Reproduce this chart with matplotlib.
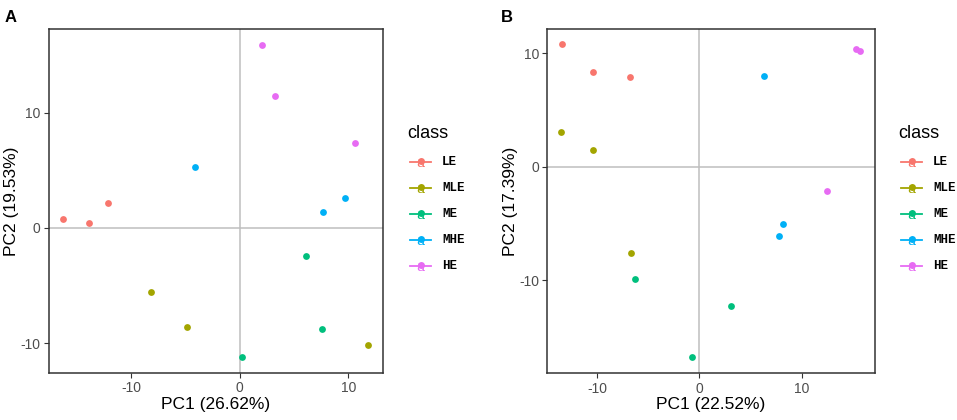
import matplotlib.pyplot as plt
from matplotlib.lines import Line2D

# class labels and ggplot default hues
classes = ['LE', 'MLE', 'ME', 'MHE', 'HE']
colors = ['#F8766D', '#A3A500', '#00BF7D', '#00B0F6', '#E76BF3']

# panel A scores (PC1, PC2) per class
a_pc1 = {'LE': [-16.3, -13.9, -12.2],
         'MLE': [-8.2, -4.9, 11.8],
         'ME': [0.2, 6.1, 7.6],
         'MHE': [-4.1, 7.7, 9.7],
         'HE': [2.0, 3.2, 10.6]}
a_pc2 = {'LE': [0.75, 0.43, 2.17],
         'MLE': [-5.6, -8.6, -10.2],
         'ME': [-11.25, -2.43, -8.82],
         'MHE': [5.3, 1.39, 2.55],
         'HE': [15.9, 11.46, 7.35]}

# panel B scores
b_pc1 = {'LE': [-13.4, -10.4, -6.8],
         'MLE': [-13.5, -10.4, -6.7],
         'ME': [-6.3, 3.1, -0.7],
         'MHE': [6.3, 8.2, 7.8],
         'HE': [15.3, 15.7, 12.5]}
b_pc2 = {'LE': [10.8, 8.33, 7.89],
         'MLE': [3.06, 1.5, -7.62],
         'ME': [-9.91, -12.29, -16.82],
         'MHE': [8.03, -5.06, -6.12],
         'HE': [10.36, 10.24, -2.14]}

plt.rcParams['font.family'] = ['Liberation Sans', 'DejaVu Sans']
plt.rcParams['axes.unicode_minus'] = False

fig = plt.figure(figsize=(9.57, 4.2), dpi=100)
W, H = 957, 420


def panel(rect, pc1, pc2, xlim, ylim, xlab, ylab, letter, leg_x):
    ax = fig.add_axes(rect)
    ax.axhline(0, color='#BEBEBE', lw=1.1, zorder=1)
    ax.axvline(0, color='#BEBEBE', lw=1.1, zorder=1)
    for c, col in zip(classes, colors):
        ax.scatter(pc1[c], pc2[c], s=24, color=col, zorder=3, linewidths=0)
    ax.set_xlim(xlim)
    ax.set_ylim(ylim)
    ax.set_xticks([-10, 0, 10])
    ax.set_yticks([-10, 0, 10])
    ax.tick_params(colors='#333333', labelcolor='#4D4D4D', labelsize=10,
                   length=3.5, width=0.8, pad=2.5)
    for s in ax.spines.values():
        s.set_color('#333333')
        s.set_linewidth(1.1)
    ax.set_xlabel(xlab, fontsize=12.5, labelpad=1)
    ax.set_ylabel(ylab, fontsize=12.5, labelpad=1)
    # panel letter
    fig.text(rect[0] - (44 if letter == 'A' else 46) / W, 0.975,
             letter, fontsize=12, fontweight='bold', ha='left', va='top')
    # legend drawn by hand, ggplot style
    fig.text(leg_x / W, 1 - 133 / H, 'class', fontsize=13, ha='left',
             va='center')
    for i, (c, col) in enumerate(zip(classes, colors)):
        y = 1 - (162 + i * 26) / H
        x0 = (leg_x + 3) / W
        x1 = (leg_x + 24) / W
        fig.add_artist(Line2D([x0, x1], [y, y], color=col, lw=1.3,
                              transform=fig.transFigure))
        fig.add_artist(Line2D([(x0 + x1) / 2], [y + 1.5 / H], marker='o',
                              ms=5, color=col, mew=0,
                              transform=fig.transFigure))
        fig.text((x0 + x1) / 2, y - 1 / H, 'a', color=col, fontsize=10,
                 ha='center', va='center', family='DejaVu Serif')
        fig.text((leg_x + 35) / W, y, c, fontsize=9, fontweight='bold',
                 family='Liberation Mono', ha='left', va='center')
    return ax


panel([49 / W, 47 / H, 334 / W, 344 / H], a_pc1, a_pc2,
      (-17.6, 13.2), (-12.6, 17.25), 'PC1 (26.62%)', 'PC2 (19.53%)', 'A', 407)
panel([547.3 / W, 46.7 / H, 327.4 / W, 344 / H], b_pc1, b_pc2,
      (-14.87, 17.16), (-18.23, 12.13), 'PC1 (22.52%)', 'PC2 (17.39%)', 'B',
      898)

fig.savefig('out.png', dpi=100)
